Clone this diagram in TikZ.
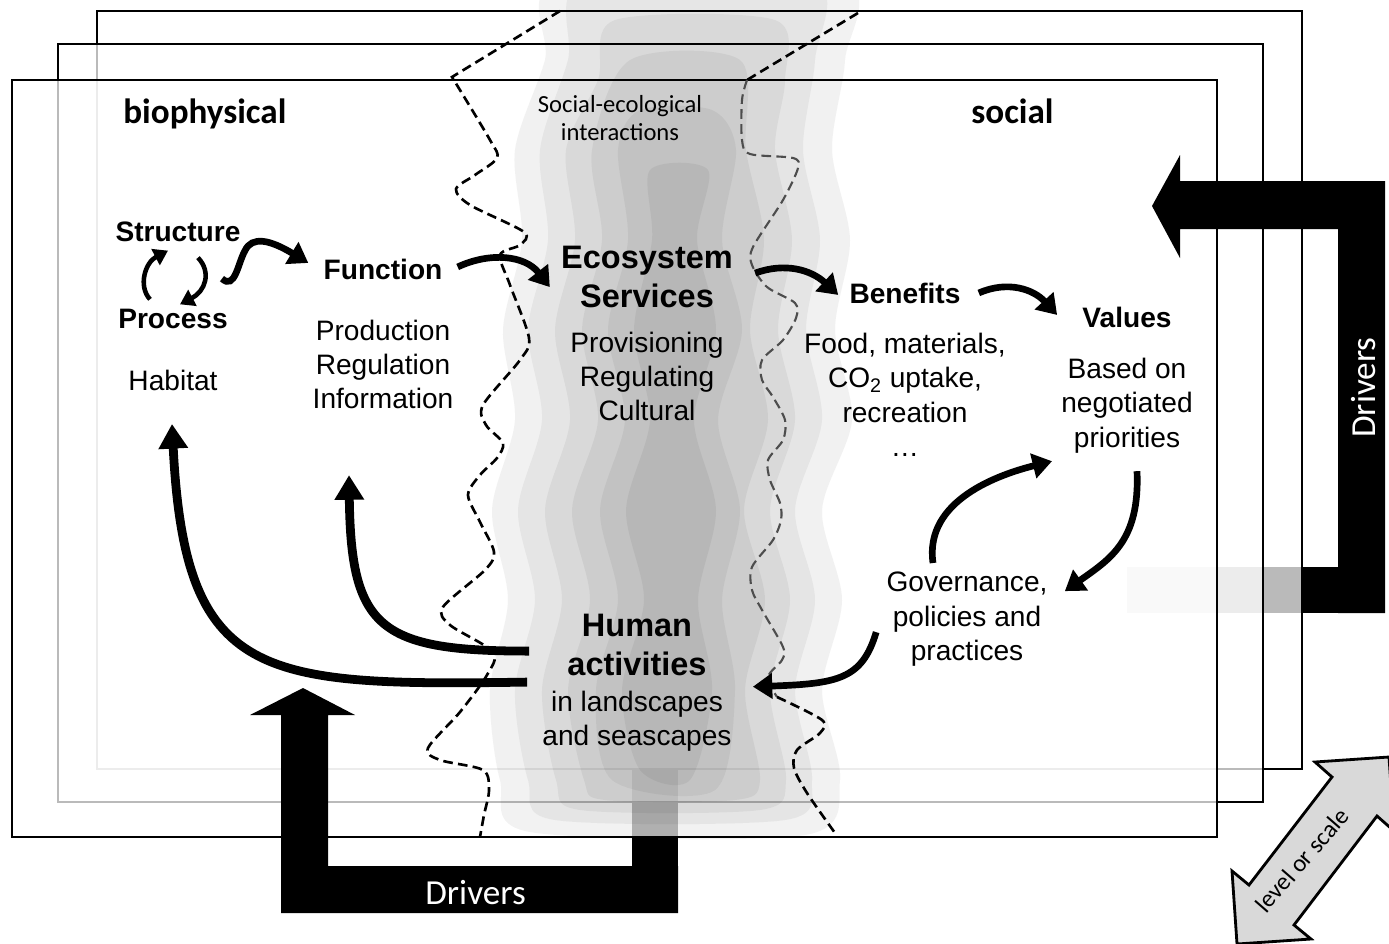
\documentclass[tikz,border=0pt]{standalone}
\usepackage{fontspec}
\setmainfont{Liberation Sans}
\newfontfamily\calibri{Carlito}
\usepackage{tikz}
\usetikzlibrary{positioning,arrows.meta}
\definecolor{scalegray}{HTML}{D9D9D9}
\definecolor{edgegray}{HTML}{4D4D4D}

\begin{document}
\begin{tikzpicture}[
  x=0.02cm,y=-0.02cm,
  node distance=0.5cm,
  sheet/.style={draw=black,line width=1.5pt,fill=white,fill opacity=0.73},
  fog/.style={fill=black,opacity=0.05},
  zoneline/.style={dash pattern=on 5.5pt off 3pt,line width=1.5pt},
  driverbar/.style={fill=black},
  zone/.style={font=\calibri\bfseries\fontsize{20}{24}\selectfont,inner sep=0pt},
  note/.style={font=\calibri\fontsize{14}{16}\selectfont,inner sep=0pt,align=center},
  heading/.style={font=\bfseries\fontsize{16}{19.4}\selectfont,inner sep=0pt,align=center},
  bigheading/.style={font=\bfseries\fontsize{18.5}{22.1}\selectfont,inner sep=0pt,align=center},
  listing/.style={font=\fontsize{16}{19.4}\selectfont,inner sep=0pt,align=center},
  drv/.style={font=\calibri\fontsize{20}{24}\selectfont,text=white,inner sep=0pt},
  flow/.style={line width=3.8pt,-{Triangle[length=11pt,width=14pt]}},
  bigflow/.style={line width=5pt,-{Triangle[length=14pt,width=16pt]}},
  loopflow/.style={line width=2.6pt,-{Triangle[length=8pt,width=10pt]}}
]
  \useasboundingbox (0,0) rectangle (1389,943);

  \fill[driverbar] (1127,567) rectangle (1385,613);
  \fill[driverbar] (632,770) rectangle (678,913);

  \draw[sheet] (97,11) rectangle (1302,769);
  \draw[sheet] (58,44) rectangle (1263,802);
  \draw[sheet] (12,80) rectangle (1217,837);

  \fill[fog] plot[smooth cycle] coordinates {(560,-20) (545,60) (515,150) (522,240) (503,330)
    (515,420) (492,510) (508,600) (490,690) (500,780) (530,832) (805,835) (840,780) (822,690)
    (842,600) (822,510) (852,420) (835,330) (850,240) (832,150) (845,60) (840,-20)};
  \fill[fog] plot[smooth cycle] coordinates {(585,-20) (568,60) (540,150) (548,240) (528,330)
    (542,420) (518,510) (535,600) (515,690) (528,780) (555,820) (785,820) (812,780) (795,690)
    (815,600) (795,510) (822,420) (806,330) (820,240) (803,150) (815,60) (812,-20)};
  \fill[fog] plot[smooth cycle] coordinates {(615,20) (598,80) (566,150) (575,240) (555,330)
    (570,420) (545,510) (562,600) (542,690) (556,780) (580,810) (760,810) (786,780) (770,690)
    (790,600) (770,510) (795,420) (778,330) (792,240) (775,150) (785,80) (775,20)};
  \fill[fog] plot[smooth cycle] coordinates {(630,60) (592,150) (602,240) (582,330) (598,420)
    (572,510) (590,600) (568,690) (584,780) (605,800) (735,800) (760,780) (745,690) (765,600)
    (744,510) (768,420) (750,330) (764,240) (746,150) (740,60)};
  \fill[fog] plot[smooth cycle] coordinates {(640,110) (618,150) (628,240) (608,330) (625,420)
    (600,510) (618,600) (596,690) (612,780) (715,790) (735,690) (722,600) (740,510) (718,420)
    (742,330) (722,240) (736,150) (712,110)};
  \fill[fog] plot[smooth cycle] coordinates {(650,170) (652,240) (634,330) (650,420) (626,510)
    (644,600) (622,690) (640,770) (690,780) (712,690) (698,600) (716,510) (694,420) (716,330)
    (697,240) (708,170)};

  \draw[zoneline] (560,11) -- (452,77) -- plot[smooth] coordinates {(452,77) (490,140) (497,158)
    (475,175) (456,189) (470,205) (524,232) (520,245) (500,255) (510,285) (529,338) (520,360)
    (483,405) (486,425) (503,443) (497,458) (480,475) (468,495) (480,522) (494,552) (485,570)
    (443,607) (450,625) (493,652) (487,675) (460,712) (428,748) (440,760) (483,770) (489,790)
    (484,815) (480,837)};
  \draw[zoneline] (858,13) -- (747,80);
  \draw[zoneline,edgegray,line width=1.2pt] plot[smooth] coordinates {(747,80) (742,100) (742,140)
    (750,154) (793,158) (798,168) (783,200) (753,247) (752,265) (767,287) (795,303) (796,318)
    (783,340) (762,360) (762,380) (773,397) (785,420) (783,440) (768,460) (770,480) (780,503)
    (781,520) (773,540) (752,567) (752,590) (762,610) (783,647) (782,660) (768,677) (777,697)};
  \draw[zoneline] plot[smooth] coordinates {(777,697) (822,720) (820,733) (797,750) (794,768)
    (807,793) (835,833)};

  \fill[driverbar] (303,688) -- (355,715) -- (328,715) -- (328,866) -- (678,866) -- (678,913)
    -- (281,913) -- (281,715) -- (250,715) -- cycle;
  \fill[driverbar] (1152,206) -- (1180,155) -- (1180,181) -- (1385,181) -- (1385,613)
    -- (1338,613) -- (1338,229) -- (1180,229) -- (1180,258) -- cycle;
  \node[drv,anchor=base west] (drvlow) at (425,904) {Drivers};
  \node[drv,anchor=base west,rotate=90] (drvside) at (1375,438) {Drivers};

  \filldraw[fill=scalegray,line width=1.6pt] (1237,944) -- (1232,871) -- (1249,885) -- (1332,777)
    -- (1315,762) -- (1389,757) -- (1394,831) -- (1377,816) -- (1294,925) -- (1311,939) -- cycle;
  \node[font=\calibri\fontsize{14}{17}\selectfont,rotate=49,inner sep=0pt] (lvl) at (1302,860) {level or scale};

  \node[zone,anchor=base west] (bio) at (123,123) {biophysical};
  \node[zone,anchor=base west] (soc) at (971,123) {social};
  \node[note,anchor=north] (sei) at (620,95) {Social-ecological\\interactions};

  \node[heading,anchor=base] (struct) at (178,241) {Structure};
  \node[heading,anchor=base] (proc) at (173,328) {Process};
  \node[listing,below=0.82cm of proc] (hab) {Habitat};
  \node[heading,anchor=base] (fn) at (383,279) {Function};
  \node[listing,below=0.8cm of fn] (fnlist) {Production\\Regulation\\Information};
  \node[bigheading,anchor=north] (es) at (647,246) {Ecosystem\\Services};
  \node[listing,below=0.47cm of es] (eslist) {Provisioning\\Regulating\\Cultural};
  \node[heading,anchor=base] (ben) at (905,303) {Benefits};
  \node[listing,below=0.59cm of ben] (benlist) {Food, materials,\\CO\textsubscript{2} uptake,\\recreation\\\dots};
  \node[heading,anchor=base] (val) at (1127,327) {Values};
  \node[listing,below=0.61cm of val] (vallist) {Based on\\negotiated\\priorities};
  \node[listing,anchor=north] (gov) at (967,572) {Governance,\\policies and\\practices};
  \node[bigheading,anchor=north] (hum) at (637,614) {Human\\activities};
  \node[listing,below=0.29cm of hum] (humlist) {in landscapes\\and seascapes};

  \draw[loopflow] ([shift={(-23,-9)}]proc.north) .. controls +(-12,-13) and +(-23,12) .. ([shift={(-10,9)}]struct.south);
  \draw[loopflow] ([shift={(20,16)}]struct.south) .. controls +(14,15) and +(25,-13) .. ([shift={(7,-4)}]proc.north);
  \draw[flow] ([shift={(44,37)}]struct.south) .. controls +(13,12) and +(-7,12) .. ++(23,-28)
    .. controls +(7,-15) and +(-38,-23) .. ([shift={(-15,-6)}]fn.west);
  \draw[flow] ([shift={(15,-2)}]fn.east) .. controls +(32,-15) and +(-25,-32) .. ([shift={(-11,10)}]es.west);
  \draw[flow] ([shift={(22,-4)}]es.east) .. controls +(30,-11) and +(-27,-25) .. ([shift={(-11,2)}]ben.west);
  \draw[flow] ([shift={(18,0)}]ben.east) .. controls +(30,-13) and +(-23,-25) .. ([shift={(-25,-2)}]val.west);
  \draw[flow] ([shift={(10,18)}]vallist.south) .. controls +(3,70) and +(45,-32) .. ([shift={(17,-28)}]gov.east);
  \draw[flow] ([shift={(-34,-9)}]gov.north) .. controls +(-9,-63) and +(-52,13) .. ([shift={(-75,8)}]vallist.south);
  \draw[flow] ([shift={(-10,13)}]gov.west) .. controls +(-14,47) and +(85,-3) .. ([shift={(21,-4)}]humlist.north east);
  \draw[bigflow] ([shift={(-38,6)}]hum.west) .. controls +(-150,0) and +(2,153) .. ([shift={(-34,66)}]fnlist.south);
  \draw[bigflow] ([shift={(-40,37)}]hum.west) .. controls +(-268,4) and +(13,257) .. ([shift={(-1,33)}]hab.south);
\end{tikzpicture}
\end{document}
